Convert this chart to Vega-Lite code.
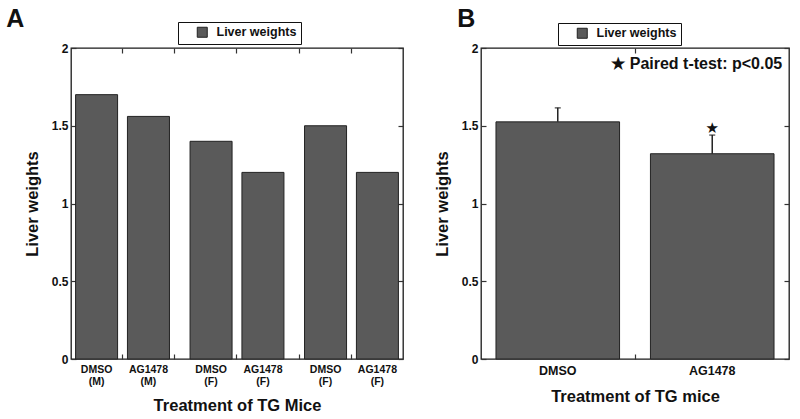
{
  "$schema": "https://vega.github.io/schema/vega-lite/v6.json",
  "background": "white",
  "padding": {"left": 5, "top": 6, "right": 5, "bottom": 5},
  "config": {
    "font": "Liberation Sans",
    "view": {"stroke": "#1a1a1a", "strokeWidth": 1.3},
    "axis": {"grid": false, "domain": false, "tickColor": "#333", "tickSize": -5, "tickWidth": 1.2,
      "labelFontWeight": "bold", "labelFontSize": 12, "labelColor": "#111",
      "titleFontWeight": "bold", "titleColor": "#111", "titleFont": "Liberation Sans", "labelFont": "Liberation Sans"},
    "legend": {"orient": "none", "strokeColor": "#111", "fillColor": "white", "padding": 4,
      "symbolType": "square", "symbolSize": 100, "symbolStrokeColor": "#222", "symbolStrokeWidth": 1,
      "labelFontSize": 12.5, "labelFontWeight": "bold", "labelFont": "Liberation Sans", "labelColor": "#111",
      "symbolOffset": 14, "labelOffset": 8, "labelExpr": "datum.label + '  '"},
    "title": {"font": "Liberation Sans", "fontWeight": "bold", "fontSize": 25, "color": "#111"}
  },
  "spacing": 28,
  "resolve": {"scale": {"color": "independent"}, "legend": {"color": "independent"}},
  "hconcat": [
    {
      "width": 332,
      "height": 311,
      "title": {"text": "A", "orient": "left", "angle": 0, "anchor": "end", "frame": "group", "baseline": "top", "dy": -41, "offset": -18},
      "layer": [
        {
          "data": {"values": [
            {"group": "G1", "drug": "DMSO", "label": "DMSO\n(M)", "weight": 1.70, "series": "Liver weights"},
            {"group": "G1", "drug": "AG1478", "label": "AG1478\n(M)", "weight": 1.56, "series": "Liver weights"},
            {"group": "G2", "drug": "DMSO", "label": "DMSO\n(F)", "weight": 1.40, "series": "Liver weights"},
            {"group": "G2", "drug": "AG1478", "label": "AG1478\n(F)", "weight": 1.20, "series": "Liver weights"},
            {"group": "G3", "drug": "DMSO", "label": "DMSO\n(F)", "weight": 1.50, "series": "Liver weights"},
            {"group": "G3", "drug": "AG1478", "label": "AG1478\n(F)", "weight": 1.20, "series": "Liver weights"}
          ]},
          "layer": [
            {
              "mark": {"type": "bar", "stroke": "#222", "strokeWidth": 1},
              "encoding": {
                "x": {"field": "group", "type": "nominal", "sort": null, "scale": {"paddingInner": 0.18, "paddingOuter": 0.04}, "axis": null},
                "xOffset": {"field": "drug", "type": "nominal", "sort": ["DMSO", "AG1478"], "scale": {"paddingInner": 0.19, "paddingOuter": 0}},
                "y": {"field": "weight", "type": "quantitative", "scale": {"domain": [0, 2], "nice": false},
                  "axis": {"values": [0, 0.5, 1, 1.5, 2], "format": "~g", "title": "Liver weights", "titleFontSize": 16.5, "titlePadding": 11, "labelPadding": 8}},
                "color": {"field": "series", "type": "nominal", "scale": {"range": ["#5a5a5a"]},
                  "legend": {"title": null, "legendX": 107, "legendY": -26}}
              }
            },
            {
              "mark": {"type": "text", "lineBreak": "\n", "baseline": "top", "dy": 6, "fontSize": 10.5, "fontWeight": "bold", "color": "#111", "lineHeight": 11.5},
              "encoding": {
                "x": {"field": "group", "type": "nominal", "sort": null},
                "xOffset": {"field": "drug", "type": "nominal", "sort": ["DMSO", "AG1478"]},
                "y": {"datum": 0, "type": "quantitative"},
                "text": {"field": "label"}
              }
            }
          ]
        },
        {
          "data": {"values": [{}]},
          "mark": {"type": "point", "opacity": 0},
          "encoding": {
            "x": {"datum": 0.5, "type": "quantitative", "scale": {"domain": [0, 1]},
              "axis": {"orient": "bottom", "values": [0.154, 0.31, 0.497, 0.687, 0.843], "labels": false, "title": "Treatment of TG Mice", "titleFontSize": 16.5, "titlePadding": 38}}
          }
        },
        {
          "data": {"values": [{}]},
          "mark": {"type": "point", "opacity": 0},
          "encoding": {
            "x": {"datum": 0.5, "type": "quantitative", "scale": {"domain": [0, 1]},
              "axis": {"orient": "top", "values": [0.154, 0.31, 0.497, 0.687, 0.843], "labels": false, "title": null}},
            "y": {"datum": 1, "type": "quantitative", "scale": {"domain": [0, 2]},
              "axis": {"orient": "right", "values": [0, 0.5, 1, 1.5, 2], "labels": false, "title": null}}
          }
        }
      ],
      "resolve": {"scale": {"x": "independent", "y": "independent"}}
    },
    {
      "width": 308,
      "height": 311,
      "title": {"text": "B", "orient": "left", "angle": 0, "anchor": "end", "frame": "group", "baseline": "top", "dy": -41, "offset": -59},
      "layer": [
        {
          "data": {"values": [
            {"drug": "DMSO", "weight": 1.525, "upper": 1.615, "star": "", "series": "Liver weights"},
            {"drug": "AG1478", "weight": 1.32, "upper": 1.44, "star": "★", "series": "Liver weights"}
          ]},
          "layer": [
            {
              "mark": {"type": "bar", "stroke": "#222", "strokeWidth": 1},
              "encoding": {
                "x": {"field": "drug", "type": "nominal", "sort": ["DMSO", "AG1478"], "scale": {"paddingInner": 0.2, "paddingOuter": 0.097},
                  "axis": {"ticks": false, "labelAngle": 0, "labelPadding": 5, "labelFontSize": 12.5, "title": "Treatment of TG mice", "titleFontSize": 16.5, "titlePadding": 12}},
                "y": {"field": "weight", "type": "quantitative", "scale": {"domain": [0, 2], "nice": false},
                  "axis": {"values": [0, 0.5, 1, 1.5, 2], "format": "~g", "title": "Liver weights", "titleFontSize": 16.5, "titlePadding": 11, "labelPadding": 8}},
                "color": {"field": "series", "type": "nominal", "scale": {"range": ["#5a5a5a"]},
                  "legend": {"title": null, "legendX": 77, "legendY": -25}}
              }
            },
            {
              "mark": {"type": "rule", "color": "#222", "strokeWidth": 1.5},
              "encoding": {
                "x": {"field": "drug", "type": "nominal", "sort": ["DMSO", "AG1478"]},
                "y": {"field": "weight", "type": "quantitative"},
                "y2": {"field": "upper"}
              }
            },
            {
              "mark": {"type": "tick", "orient": "horizontal", "color": "#222", "size": 6, "thickness": 1.5},
              "encoding": {
                "x": {"field": "drug", "type": "nominal", "sort": ["DMSO", "AG1478"]},
                "y": {"field": "upper", "type": "quantitative"}
              }
            },
            {
              "mark": {"type": "text", "font": "DejaVu Sans", "fontSize": 15, "fontWeight": "bold", "baseline": "middle", "dy": -7, "color": "#111"},
              "encoding": {
                "x": {"field": "drug", "type": "nominal", "sort": ["DMSO", "AG1478"]},
                "y": {"field": "upper", "type": "quantitative"},
                "text": {"field": "star"}
              }
            },
            {
              "data": {"values": [{"note": "★ Paired t-test: p<0.05", "drug": "AG1478", "level": 1.9}]},
              "mark": {"type": "text", "fontSize": 16, "fontWeight": "bold", "align": "right", "baseline": "middle", "dx": 70, "color": "#111"},
              "encoding": {
                "x": {"field": "drug", "type": "nominal", "sort": ["DMSO", "AG1478"]},
                "y": {"field": "level", "type": "quantitative"},
                "text": {"field": "note"}
              }
            }
          ]
        },
        {
          "data": {"values": [{}]},
          "mark": {"type": "point", "opacity": 0},
          "encoding": {
            "x": {"datum": 1, "type": "quantitative", "scale": {"domain": [0, 2]},
              "axis": {"orient": "top", "values": [1], "labels": false, "title": null}},
            "y": {"datum": 1, "type": "quantitative", "scale": {"domain": [0, 2]},
              "axis": {"orient": "right", "values": [0, 0.5, 1, 1.5, 2], "labels": false, "title": null}}
          }
        },
        {
          "data": {"values": [{}]},
          "mark": {"type": "point", "opacity": 0},
          "encoding": {
            "x": {"datum": 1, "type": "quantitative", "scale": {"domain": [0, 2]},
              "axis": {"orient": "bottom", "values": [1], "labels": false, "title": null}}
          }
        }
      ],
      "resolve": {"scale": {"x": "independent", "y": "independent"}}
    }
  ]
}
